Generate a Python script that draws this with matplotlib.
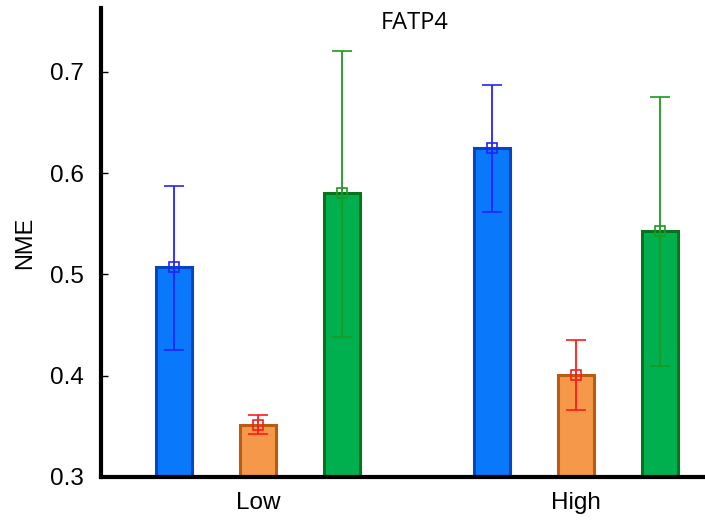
import numpy as np
import matplotlib
matplotlib.use("Agg")
import matplotlib.pyplot as plt

plt.rcParams['font.family'] = ['Liberation Sans', 'DejaVu Sans']

groups = ['Low', 'High']
means = {
    'blue': [0.507, 0.625],
    'orange': [0.351, 0.401],
    'green': [0.580, 0.543],
}
err_low = {
    'blue': [0.425, 0.562],
    'orange': [0.342, 0.366],
    'green': [0.438, 0.410],
}
err_high = {
    'blue': [0.587, 0.687],
    'orange': [0.361, 0.435],
    'green': [0.721, 0.675],
}

fills = {'blue': '#0A78FA', 'orange': '#F5984A', 'green': '#00B04F'}
edges = {'blue': '#0645C0', 'orange': '#B65D12', 'green': '#08731F'}
err_colors = {'blue': '#2222FF', 'orange': '#FF1A1A', 'green': '#1E9A1E'}

fig = plt.figure(figsize=(7.05, 5.23), dpi=100)
ax = fig.add_axes([0.1433, 0.088, 0.8567, 0.8967])

x = np.arange(len(groups))
offset = 0.264
width = 0.113

for i, key in enumerate(['blue', 'orange', 'green']):
    pos = x + (i - 1) * offset
    m = np.array(means[key])
    lo = m - np.array(err_low[key])
    hi = np.array(err_high[key]) - m
    ax.bar(pos, m - 0.3, width, bottom=0.3, color=fills[key],
           edgecolor=edges[key], linewidth=2.2, zorder=2)
    ax.errorbar(pos, m, yerr=[lo, hi], fmt='s', mfc='none', mec=err_colors[key],
                ecolor=err_colors[key], ms=7, mew=1.2, elinewidth=1.3,
                capsize=7, capthick=1.3, zorder=3)

ax.set_xlim(-0.494, 1.406)
ax.set_ylim(0.3, 0.763)
ax.set_yticks([0.3, 0.4, 0.5, 0.6, 0.7])
ax.set_xticks(x)
ax.set_xticklabels(groups)
ax.set_ylabel('NME', fontsize=17, labelpad=10)
ax.text(0.52, 0.968, 'FATP4', transform=ax.transAxes, ha='center', va='center',
        fontsize=17, family=['Open Sans', 'DejaVu Sans'])

ax.spines['top'].set_visible(False)
ax.spines['right'].set_visible(False)
ax.spines['left'].set_linewidth(3)
ax.spines['bottom'].set_linewidth(3)
ax.tick_params(direction='in', length=5, width=1, labelsize=17.5)
ax.tick_params(axis='y', pad=12)
ax.tick_params(axis='x', pad=11)

fig.savefig('out.png', dpi=100)
